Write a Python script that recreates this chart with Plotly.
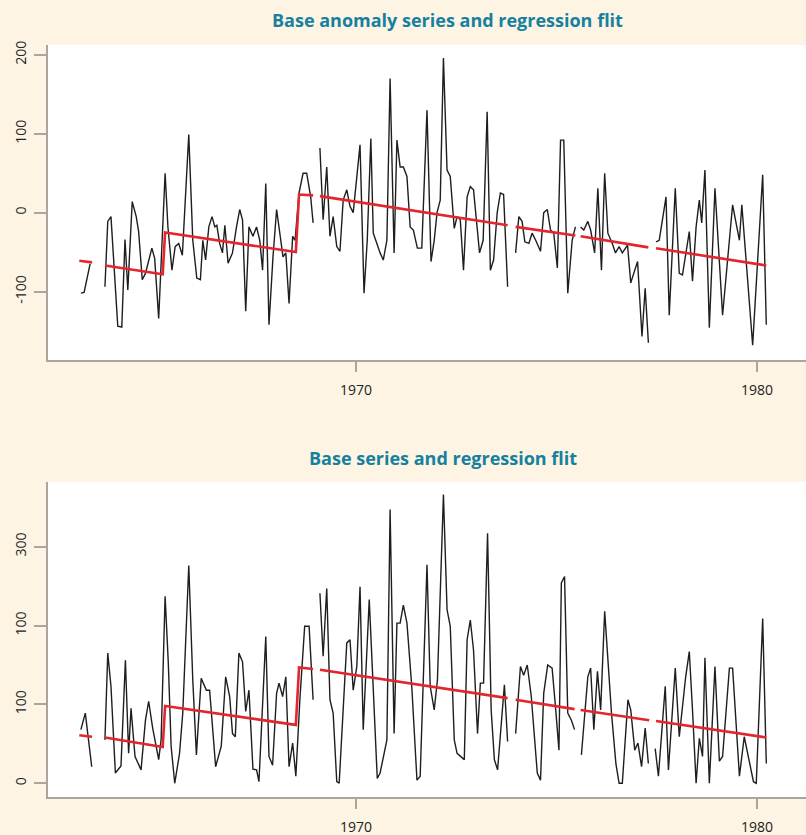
import plotly.graph_objects as go

N = None

# ---- Top panel: anomaly series (gaps = None) ----
anom_t = [1963.14, 1963.22, 1963.37, N,
          1963.74, 1963.81, 1963.89, 1964.06, 1964.16, 1964.24, 1964.31, 1964.42, 1964.52, 1964.58,
          1964.67, 1964.75, 1964.91, 1964.98, 1965.08, 1965.24, 1965.31, 1965.41, 1965.49, 1965.58,
          1965.67, 1965.83, 1965.93, 1966.03, 1966.12, 1966.18, 1966.25, 1966.33, 1966.41, 1966.48,
          1966.53, 1966.60, 1966.67, 1966.73, 1966.81, 1966.92, 1967.02, 1967.10, 1967.17, 1967.25,
          1967.33, 1967.43, 1967.52, 1967.60, 1967.67, 1967.75, 1967.83, 1967.93, 1968.02, 1968.10,
          1968.18, 1968.25, 1968.33, 1968.42, 1968.48, 1968.58, 1968.68, 1968.77, 1968.87, 1968.93, N,
          1969.10, 1969.18, 1969.27, 1969.35, 1969.43, 1969.52, 1969.60, 1969.68, 1969.77, 1969.85,
          1969.93, 1970.02, 1970.10, 1970.20, 1970.28, 1970.37, 1970.43, 1970.52, 1970.60, 1970.68,
          1970.77, 1970.85, 1970.95, 1971.02, 1971.10, 1971.18, 1971.27, 1971.35, 1971.43, 1971.53,
          1971.64, 1971.77, 1971.87, 1971.95, 1972.02, 1972.10, 1972.18, 1972.27, 1972.35, 1972.45,
          1972.52, 1972.60, 1972.68, 1972.77, 1972.85, 1972.93, 1973.02, 1973.08, 1973.17, 1973.27,
          1973.35, 1973.43, 1973.52, 1973.60, 1973.68, 1973.78, N,
          1973.98, 1974.06, 1974.14, 1974.21, 1974.31, 1974.39, 1974.48, 1974.60, 1974.68, 1974.77,
          1974.85, 1974.93, 1975.02, 1975.10, 1975.18, 1975.28, 1975.39, 1975.47, N,
          1975.60, 1975.68, 1975.78, 1975.85, 1975.95, 1976.03, 1976.12, 1976.20, 1976.28, 1976.39,
          1976.47, 1976.56, 1976.64, 1976.77, 1976.85, 1976.93, 1977.02, 1977.13, 1977.21, 1977.29, N,
          1977.48, 1977.56, 1977.73, 1977.81, 1977.96, 1978.06, 1978.14, 1978.31, 1978.39, 1978.48,
          1978.56, 1978.62, 1978.70, 1978.81, 1978.95, 1979.14, 1979.39, 1979.56, 1979.62, 1979.72,
          1979.89, 1980.14, 1980.23]
anom_v = [-102, -101, -65, N,
          -94, -11, -5, -144, -145, -34, -98, 14, -5, -24,
          -85, -77, -45, -58, -134, 50, -18, -73, -43, -39,
          -54, 99, -35, -83, -85, -35, -60, -18, -5, -18,
          -16, -39, -51, -16, -64, -51, -18, 4, -9, -125,
          -18, -30, -18, -35, -73, 37, -142, -56, 4, -30,
          -56, -51, -115, -30, -35, 25, 50, 50, 20, -13, N,
          82, -9, 58, -30, -5, -43, -49, 16, 29, 8,
          0, 42, 86, -102, -35, 94, -26, -39, -51, -60,
          -35, 170, -51, 92, 58, 58, 46, -18, -22, -45,
          -45, 130, -62, -35, 0, 16, 196, 54, 46, -20,
          -5, -9, -73, 20, 33, 29, -18, -51, -35, 128,
          -73, -60, 0, 25, 23, -94, N,
          -51, -5, -11, -37, -39, -26, -35, -49, 0, 4,
          -22, -26, -70, 92, 92, -102, -35, -18, N,
          -18, -22, -11, -22, -51, 31, -73, 50, -26, -39,
          -51, -43, -51, -41, -89, -77, -62, -157, -96, -165, N,
          -37, -35, 20, -130, 31, -77, -79, -24, -87, -18,
          16, -13, 54, -146, 31, -130, 10, -35, 10, -58,
          -168, 48, -142]

anom_fit_t = [1963.10, 1963.42, N, 1963.74, 1965.18, 1965.24, 1968.50, 1968.58, 1968.93, N,
              1969.10, 1973.78, N, 1973.98, 1975.47, N, 1975.60, 1977.29, N, 1977.48, 1980.23]
anom_fit_v = [-61, -63, N, -67, -78, -25, -50, 23, 22, N,
              21, -16, N, -18, -29, N, -30, -44, N, -45, -67]

# ---- Bottom panel: base series ----
base_t = [1963.14, 1963.25, 1963.41, N,
          1963.74, 1963.81, 1963.89, 1964.00, 1964.14, 1964.25, 1964.33, 1964.39, 1964.49, 1964.64,
          1964.75, 1964.83, 1964.93, 1965.08, 1965.14, 1965.24, 1965.32, 1965.39, 1965.48, 1965.60,
          1965.68, 1965.83, 1965.93, 1966.02, 1966.14, 1966.20, 1966.27, 1966.35, 1966.50, 1966.64,
          1966.75, 1966.85, 1966.92, 1966.99, 1967.08, 1967.17, 1967.25, 1967.33, 1967.43, 1967.52,
          1967.58, 1967.75, 1967.83, 1967.92, 1968.02, 1968.08, 1968.17, 1968.25, 1968.33, 1968.42,
          1968.50, 1968.60, 1968.72, 1968.83, 1968.93, N,
          1969.10, 1969.18, 1969.27, 1969.35, 1969.43, 1969.52, 1969.58, 1969.68, 1969.77, 1969.85,
          1969.93, 1970.02, 1970.10, 1970.18, 1970.33, 1970.53, 1970.60, 1970.77, 1970.85, 1970.95,
          1971.02, 1971.10, 1971.18, 1971.27, 1971.39, 1971.52, 1971.60, 1971.77, 1971.85, 1971.95,
          1972.03, 1972.18, 1972.27, 1972.35, 1972.45, 1972.52, 1972.62, 1972.70, 1972.77, 1972.85,
          1972.93, 1973.03, 1973.10, 1973.18, 1973.28, 1973.37, 1973.45, 1973.53, 1973.70, 1973.78, N,
          1973.98, 1974.10, 1974.18, 1974.27, 1974.37, 1974.52, 1974.60, 1974.68, 1974.78, 1974.89,
          1974.98, 1975.06, 1975.12, 1975.20, 1975.28, 1975.37, 1975.45, N,
          1975.62, 1975.70, 1975.78, 1975.85, 1975.93, 1976.02, 1976.10, 1976.20, 1976.28, 1976.37,
          1976.48, 1976.56, 1976.64, 1976.78, 1976.85, 1976.95, 1977.03, 1977.12, 1977.21, 1977.29, N,
          1977.46, 1977.54, 1977.71, 1977.79, 1977.96, 1978.06, 1978.22, 1978.31, 1978.39, 1978.48,
          1978.56, 1978.64, 1978.70, 1978.81, 1978.95, 1979.06, 1979.14, 1979.31, 1979.39, 1979.56,
          1979.68, 1979.81, 1979.91, 1979.98, 1980.14, 1980.23]
base_v = [68, 89, 21, N,
          55, 165, 123, 13, 22, 156, 38, 95, 34, 17,
          80, 104, 70, 30, 55, 237, 152, 47, 0, 38,
          89, 276, 131, 36, 133, 127, 118, 118, 21, 47,
          135, 110, 63, 59, 165, 154, 91, 118, 18, 17,
          2, 186, 34, 23, 114, 127, 110, 135, 21, 51,
          9, 106, 199, 199, 106, N,
          241, 161, 247, 106, 89, 2, 0, 89, 178, 182,
          118, 148, 249, 68, 233, 6, 13, 55, 347, 63,
          203, 203, 226, 203, 123, 4, 9, 277, 123, 93,
          131, 366, 220, 199, 55, 38, 34, 30, 182, 207,
          169, 63, 127, 127, 317, 93, 30, 17, 125, 53, N,
          63, 148, 137, 150, 110, 13, 4, 114, 150, 146,
          93, 42, 254, 262, 89, 80, 68, N,
          36, 89, 135, 146, 68, 142, 93, 218, 161, 89,
          25, 0, 0, 106, 93, 42, 51, 21, 70, 25, N,
          44, 9, 123, 17, 146, 59, 135, 167, 93, 0,
          57, 34, 159, 0, 148, 28, 34, 146, 146, 9,
          59, 25, 2, 0, 209, 25]

base_fit_t = [1963.10, 1963.42, N, 1963.74, 1965.18, 1965.24, 1968.50, 1968.58, 1968.93, N,
              1969.10, 1973.78, N, 1973.98, 1975.45, N, 1975.60, 1977.31, N, 1977.48, 1980.23]
base_fit_v = [61, 59, N, 58, 46, 98, 74, 147, 145, N,
              144, 108, N, 106, 94, N, 93, 80, N, 79, 58]

# tick labels as shown
x_tickvals = [1970, 1980]
x_ticktext = ["1970", "1980"]
top_tickvals = [-100, 0, 100, 200]
top_ticktext = ["-100", "0", "100", "200"]
bot_tickvals = [0, 100, 200, 300]
bot_ticktext = ["0", "100", "100", "300"]

titles = ["Base anomaly series and regression flit", "Base series and regression flit"]

BLACK = "#1e1e1e"
RED = "#e3262d"
AXIS = "#a9a59c"
CREAM = "#fdf4e3"
TEAL = "#16809f"
FONT = "Open Sans"

fig = go.Figure()
fig.add_trace(go.Scatter(x=anom_t, y=anom_v, mode="lines", line=dict(color=BLACK, width=1.4),
                         connectgaps=False, xaxis="x", yaxis="y"))
fig.add_trace(go.Scatter(x=anom_fit_t, y=anom_fit_v, mode="lines", line=dict(color=RED, width=2.6),
                         connectgaps=False, xaxis="x", yaxis="y"))
fig.add_trace(go.Scatter(x=base_t, y=base_v, mode="lines", line=dict(color=BLACK, width=1.4),
                         connectgaps=False, xaxis="x2", yaxis="y2"))
fig.add_trace(go.Scatter(x=base_fit_t, y=base_fit_v, mode="lines", line=dict(color=RED, width=2.6),
                         connectgaps=False, xaxis="x2", yaxis="y2"))

xcommon = dict(range=[1962.32, 1981.22], tickvals=x_tickvals, ticktext=x_ticktext,
               showline=True, linecolor=AXIS, linewidth=2, ticks="outside", ticklen=10,
               tickcolor=AXIS, tickwidth=1.5, showgrid=False, zeroline=False, automargin=False,
               tickfont=dict(family=FONT, size=14, color="#222"), ticklabelstandoff=6)
ycommon = dict(showline=True, linecolor=AXIS, linewidth=2, ticks="outside", ticklen=12,
               tickcolor=AXIS, tickwidth=1.5, showgrid=False, zeroline=False, tickangle=-90,
               automargin=False,
               tickfont=dict(family=FONT, size=14, color="#222"), ticklabelstandoff=2)

fig.update_layout(
    width=806, height=835,
    margin=dict(l=48, r=0, t=45, b=38, autoexpand=False),
    paper_bgcolor=CREAM, plot_bgcolor="white",
    showlegend=False,
    xaxis=dict(domain=[0, 1], anchor="y", **xcommon),
    yaxis=dict(domain=[0.5811, 1], anchor="x", range=[-186.8, 212.6],
               tickvals=top_tickvals, ticktext=top_ticktext, **ycommon),
    xaxis2=dict(domain=[0, 1], anchor="y2", **xcommon),
    yaxis2=dict(domain=[0, 0.4189], anchor="x2", range=[-17.4, 382],
                tickvals=bot_tickvals, ticktext=bot_ticktext, **ycommon),
    annotations=[
        dict(text="<b>" + titles[0] + "</b>", xref="paper", yref="paper", x=0.5277, y=1.0332,
             xanchor="center", yanchor="middle", showarrow=False,
             font=dict(family=FONT, size=18, color=TEAL)),
        dict(text="<b>" + titles[1] + "</b>", xref="paper", yref="paper", x=0.521, y=0.4508,
             xanchor="center", yanchor="middle", showarrow=False,
             font=dict(family=FONT, size=18, color=TEAL)),
    ],
)

fig.write_html("out.html", config={"displayModeBar": False},
               post_script="document.body.style.margin='0';document.body.style.background='" + CREAM + "';")
